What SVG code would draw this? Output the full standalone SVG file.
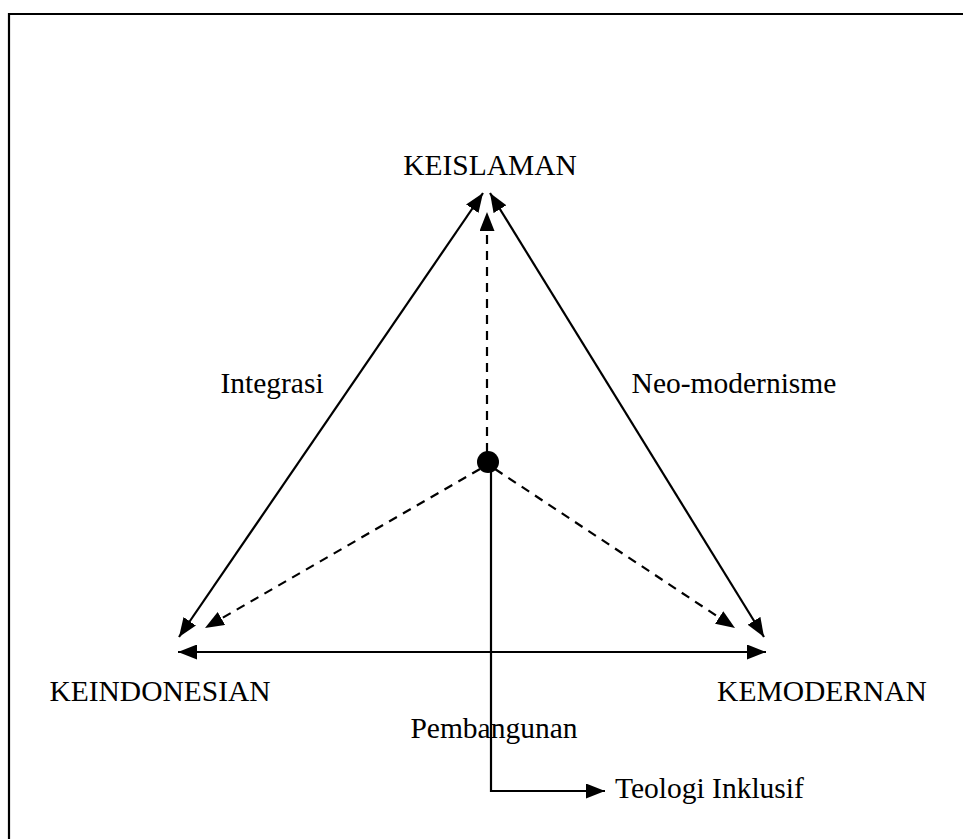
<svg xmlns="http://www.w3.org/2000/svg" width="963" height="839" viewBox="0 0 963 839">
<style>
text{font-family:"Liberation Serif","Times New Roman",serif;font-size:29.5px;fill:#000}
.s{stroke:#000;stroke-width:2.2;fill:none}
.d{stroke:#000;stroke-width:2.2;fill:none;stroke-dasharray:9,7}
</style>
<defs>
<marker id="a" viewBox="0 0 10 10" refX="10" refY="5" markerWidth="19" markerHeight="15" markerUnits="userSpaceOnUse" orient="auto-start-reverse" preserveAspectRatio="none">
<path d="M0,0 L10,5 L0,10 z" fill="#000"/>
</marker>
</defs>
<rect width="963" height="839" fill="#fff"/>
<g id="frame"><path class="s" d="M9,839 V14 H963" stroke-width="3"/></g>
<g id="connectors">
<line class="s" x1="483" y1="193" x2="179" y2="637" marker-start="url(#a)" marker-end="url(#a)"/>
<line class="s" x1="490" y1="193" x2="764" y2="637" marker-start="url(#a)" marker-end="url(#a)"/>
<line class="s" x1="178" y1="652" x2="766" y2="652" marker-start="url(#a)" marker-end="url(#a)"/>
<line class="d" x1="487" y1="452" x2="487" y2="212" marker-end="url(#a)"/>
<line class="d" x1="480" y1="469" x2="205" y2="628" marker-end="url(#a)"/>
<line class="d" x1="495" y1="469" x2="735" y2="628" marker-end="url(#a)"/>
<path class="s" d="M491,462 V791 H605" marker-end="url(#a)"/>
</g>
<g id="center"><circle cx="488" cy="462" r="11" fill="#000"/></g>
<g id="keislaman"><text x="490" y="175" text-anchor="middle">KEISLAMAN</text></g>
<g id="keindonesian"><text x="160" y="701" text-anchor="middle">KEINDONESIAN</text></g>
<g id="kemodernan"><text x="822" y="701" text-anchor="middle">KEMODERNAN</text></g>
<g id="integrasi"><text x="272" y="393" text-anchor="middle">Integrasi</text></g>
<g id="neo"><text x="734" y="393" text-anchor="middle">Neo-modernisme</text></g>
<g id="pembangunan"><text x="494" y="738" text-anchor="middle">Pembangunan</text></g>
<g id="teologi"><text x="615" y="798">Teologi Inklusif</text></g>
</svg>
